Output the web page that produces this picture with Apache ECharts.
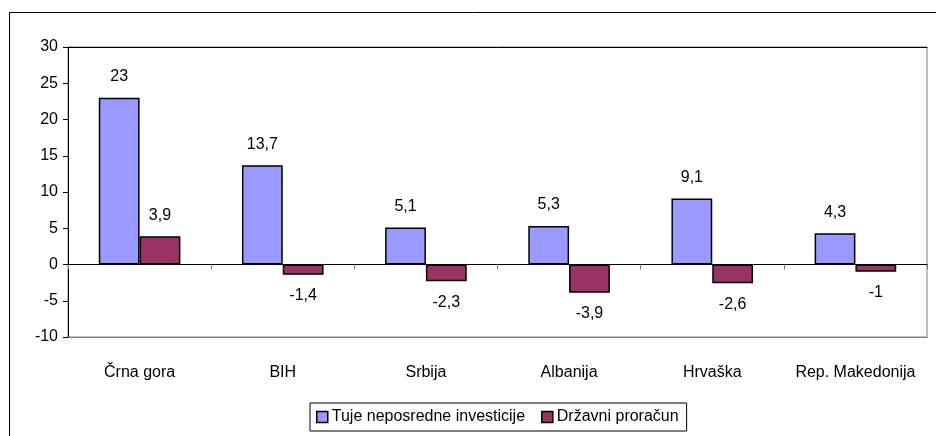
<!DOCTYPE html>
<html>
<head>
<meta charset="utf-8">
<script src="https://cdn.jsdelivr.net/npm/echarts@6/dist/echarts.min.js"></script>
<style>
  html, body { margin: 0; padding: 0; background: #fff; }
  #chart { width: 936px; height: 436px; }
</style>
</head>
<body>
<div id="chart"></div>
<script>
var categories = ['Črna gora', 'BIH', 'Srbija', 'Albanija', 'Hrvaška', 'Rep. Makedonija'];
var investicije = [23, 13.7, 5.1, 5.3, 9.1, 4.3];
var proracun = [3.9, -1.4, -2.3, -3.9, -2.6, -1];
var yTicks = [-10, -5, 0, 5, 10, 15, 20, 25, 30];

var font = 'Liberation Sans, Arial, sans-serif';
var fs = 16;

function fmt(p) {
  return String(p.value).replace('.', ',');
}

function labelFor(vals) {
  return vals.map(function (v) {
    return {
      value: v,
      label: { position: v >= 0 ? 'top' : 'bottom' }
    };
  });
}

var myChart = echarts.init(document.getElementById('chart'));
var option = {
  animation: false,
  textStyle: { fontFamily: font },
  graphic: [
    { type: 'line', shape: { x1: 9.5, y1: 12.5, x2: 936, y2: 12.5 }, style: { stroke: '#000', lineWidth: 1 } },
    { type: 'line', shape: { x1: 9.5, y1: 12.5, x2: 9.5, y2: 436 }, style: { stroke: '#000', lineWidth: 1 } }
  ],
  grid: {
    left: 68, right: 9, top: 47, bottom: 99,
    show: true, borderColor: '#808080', borderWidth: 1
  },
  legend: {
    left: 310, top: 403,
    padding: [6, 8, 6, 6],
    itemGap: 16,
    borderColor: '#000', borderWidth: 1,
    itemWidth: 11, itemHeight: 11,
    textStyle: { fontSize: fs, color: '#000', fontFamily: font, padding: [0, 0, 0, -1] },
    data: [
      { name: 'Tuje neposredne investicije', icon: 'rect', itemStyle: { borderColor: '#000', borderWidth: 1.5 } },
      { name: 'Državni proračun', icon: 'rect', itemStyle: { borderColor: '#000', borderWidth: 1.5 } }
    ]
  },
  xAxis: [
    {
      type: 'category', data: categories, position: 'bottom',
      axisLine: { onZero: false, lineStyle: { color: '#808080' } },
      axisTick: { show: false },
      axisLabel: { interval: 0, margin: 28, fontSize: fs, color: '#000', fontFamily: font }
    },
    {
      type: 'category', data: categories,
      axisLine: { onZero: true, lineStyle: { color: '#000' } },
      axisTick: { show: true, inside: true, length: 5, lineStyle: { color: '#808080' } },
      axisLabel: { show: false }
    },
    {
      type: 'category', data: categories, position: 'top',
      axisLine: { onZero: false, lineStyle: { color: '#000' } },
      axisTick: { show: false },
      axisLabel: { show: false }
    }
  ],
  yAxis: {
    type: 'value', min: yTicks[0], max: yTicks[yTicks.length - 1], interval: 5,
    axisLine: { show: true, lineStyle: { color: '#000' } },
    axisTick: { show: true, length: 5, lineStyle: { color: '#000' } },
    splitLine: { show: false },
    axisLabel: { fontSize: fs, color: '#000', margin: 10, fontFamily: font }
  },
  series: [
    {
      name: 'Tuje neposredne investicije', type: 'bar',
      data: labelFor(investicije),
      barGap: '0%', barCategoryGap: '43%',
      itemStyle: { color: '#9999FF', borderColor: '#000', borderWidth: 1.5 },
      label: { show: true, distance: 13, fontSize: fs, color: '#000', fontFamily: font, formatter: fmt }
    },
    {
      name: 'Državni proračun', type: 'bar',
      data: labelFor(proracun),
      itemStyle: { color: '#993366', borderColor: '#000', borderWidth: 1.5 },
      label: { show: true, distance: 13, fontSize: fs, color: '#000', fontFamily: font, formatter: fmt }
    }
  ]
};
myChart.setOption(option);
</script>
</body>
</html>
